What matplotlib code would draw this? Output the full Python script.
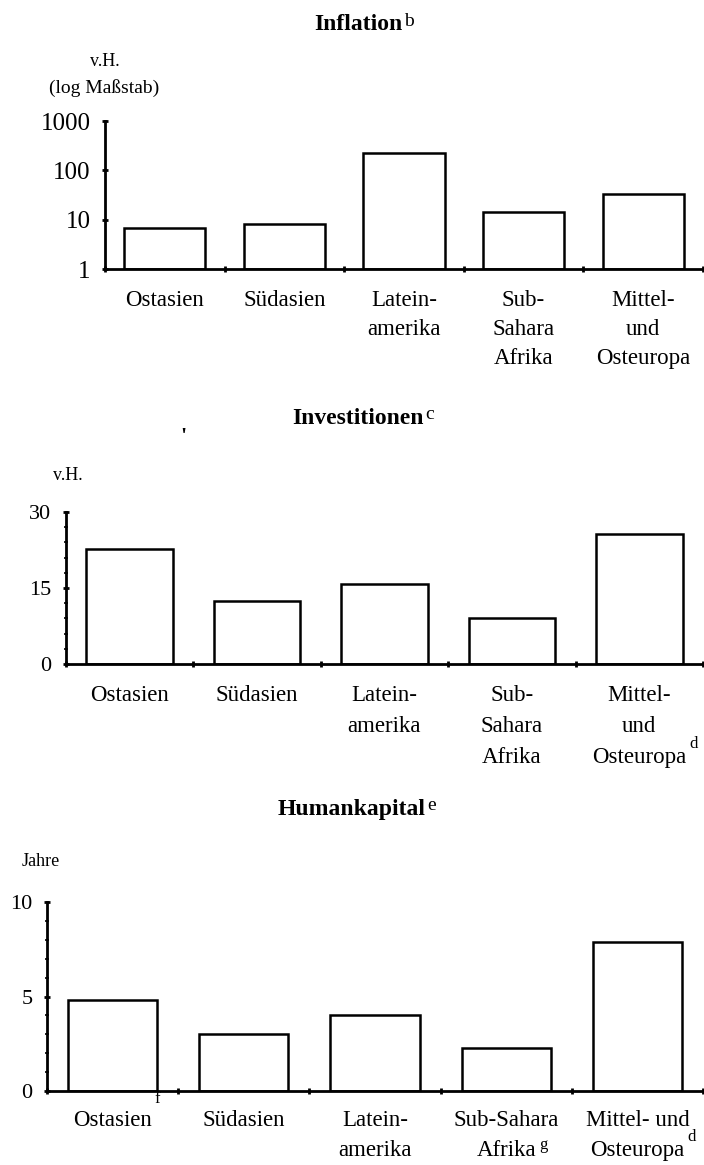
import numpy as np
import matplotlib.pyplot as plt
from matplotlib import transforms

plt.rcParams['font.family'] = ['Liberation Serif', 'DejaVu Serif']

# data
inflation = [6.8, 8.2, 224, 14.4, 33]          # v.H., log scale
investitionen = [22.7, 12.5, 15.8, 9.1, 25.6]   # v.H.
humankapital = [4.8, 3.0, 4.0, 2.3, 7.9]        # Jahre

labels_top = [['Ostasien'], ['Südasien'], ['Latein-', 'amerika'],
              ['Sub-', 'Sahara', 'Afrika'], ['Mittel-', 'und', 'Osteuropa']]
labels_mid = labels_top
labels_bot = [['Ostasien'], ['Südasien'], ['Latein-', 'amerika'],
              ['Sub-Sahara', 'Afrika'], ['Mittel- und', 'Osteuropa']]

W, H = 704, 1165
fig = plt.figure(figsize=(W / 100, H / 100), dpi=100)


def make_ax(left, right, top, bottom):
    return fig.add_axes([left / W, 1 - bottom / H, (right - left) / W, (bottom - top) / H])


def style(ax, size):
    for s in ['top', 'right']:
        ax.spines[s].set_visible(False)
    ax.spines['left'].set_linewidth(2)
    ax.spines['bottom'].set_linewidth(2)
    ax.set_xlim(0, 5)
    ax.set_xticks(np.arange(6))
    ax.set_xticklabels([])
    ax.tick_params(axis='x', direction='inout', length=4, width=2)
    ax.tick_params(axis='y', direction='inout', length=5, width=2, labelsize=size, pad=8)
    ax.tick_params(axis='y', which='minor', direction='inout', length=3, width=1.2)


def bars(ax, vals, bottom=0):
    x = np.arange(len(vals)) + 0.5
    ax.bar(x, np.array(vals) - bottom, bottom=bottom, width=0.68, color='white',
           edgecolor='black', linewidth=1.8, zorder=1)


def cat_labels(ax, labels, first, step, notes, size=16.5):
    # first/step: baseline distance below the axis line in pixels
    base = transforms.blended_transform_factory(ax.transData, ax.transAxes)
    for i, lines in enumerate(labels):
        for j, line in enumerate(lines):
            tr = transforms.offset_copy(base, fig=fig, y=-(first + j * step), units='dots')
            t = ax.text(i + 0.5, 0, line, transform=tr, ha='center', va='baseline',
                        fontsize=size, clip_on=False)
            if (i, j) in notes:
                letter, yf, dy = notes[(i, j)]
                ax.annotate(letter, xy=(1, yf), xycoords=t, xytext=(2, dy),
                            textcoords='offset points', ha='left', va='center', fontsize=12)


def title(x, y, word, sup):
    t = fig.text(x / W, 1 - y / H, word, ha='left', va='center', fontsize=17,
                 fontweight='bold')
    plt.annotate(sup, xy=(1, 1), xycoords=t, xytext=(1, 1), textcoords='offset points',
                 ha='left', va='top', fontsize=14)


# Inflation
ax1 = make_ax(105, 703, 121, 269)
ax1.set_yscale('log')
ax1.set_ylim(1, 1000)
bars(ax1, inflation, bottom=1)
ax1.set_yticks([1, 10, 100, 1000])
ax1.set_yticklabels(['1', '10', '100', '1000'])
ax1.yaxis.set_minor_locator(plt.NullLocator())
style(ax1, 18)
cat_labels(ax1, labels_top, 37, 29, {})
title(314, 25, 'Inflation', 'b')
fig.text(105 / W, 1 - 62 / H, 'v.H.', ha='center', va='center', fontsize=13)
fig.text(104 / W, 1 - 88 / H, '(log Maßstab)', ha='center', va='center', fontsize=14)

# Investitionen
ax2 = make_ax(66, 703, 512, 664)
ax2.set_ylim(0, 30)
bars(ax2, investitionen)
ax2.set_yticks([0, 15, 30])
ax2.set_yticks(np.arange(0, 31, 3), minor=True)
style(ax2, 16)
cat_labels(ax2, labels_mid, 37, 31, {(4, 2): ('d', 1.0, 2)})
title(292, 418, 'Investitionen', 'c')
fig.text(68 / W, 1 - 476 / H, 'v.H.', ha='center', va='center', fontsize=13)
fig.text(183 / W, 1 - 437 / H, "'", ha='center', va='center', fontsize=16, fontweight='bold')

# Humankapital
ax3 = make_ax(47, 703, 902, 1091)
ax3.set_ylim(0, 10)
bars(ax3, humankapital)
ax3.set_yticks([0, 5, 10])
ax3.set_yticks(np.arange(0, 11, 1), minor=True)
style(ax3, 16)
cat_labels(ax3, labels_bot, 35, 30,
           {(0, 0): ('f', 1.2, 5), (3, 1): ('g', 0.75, 0), (4, 1): ('d', 1.0, 2)})
title(278, 809, 'Humankapital', 'e')
fig.text(41 / W, 1 - 862 / H, 'Jahre', ha='center', va='center', fontsize=13)

fig.savefig('out.png', dpi=100)
